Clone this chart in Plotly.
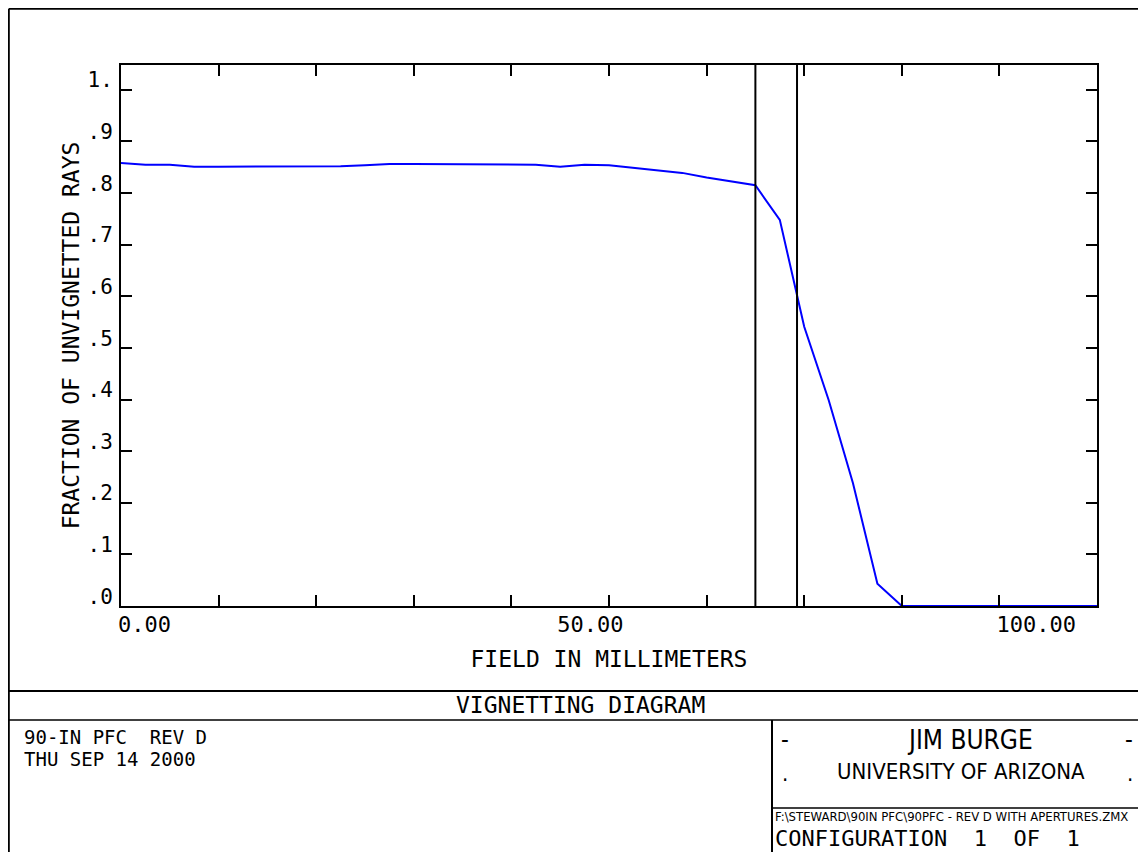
import plotly.graph_objects as go

# ---------------- data ----------------
field_mm = [0.00, 2.78, 5.56, 8.33, 11.11, 13.89, 16.67, 19.44, 22.22, 25.00,
            27.78, 30.56, 33.33, 36.11, 38.89, 41.67, 44.44, 47.22, 50.00, 52.78,
            55.56, 58.33, 61.11, 63.89, 66.67, 69.44, 72.22, 75.00, 77.78, 80.56,
            83.33, 86.11, 88.89, 91.67, 94.44, 97.22, 100.00, 102.78, 105.56,
            108.33, 111.11]
fraction = [0.858, 0.855, 0.855, 0.851, 0.851, 0.851, 0.851, 0.851, 0.851, 0.852,
            0.854, 0.856, 0.856, 0.856, 0.856, 0.856, 0.856, 0.855, 0.851, 0.855,
            0.854, 0.849, 0.845, 0.839, 0.830, 0.822, 0.815, 0.748, 0.541, 0.399,
            0.238, 0.043, 0.000, 0.000, 0.000, 0.000, 0.000, 0.000, 0.000,
            0.000, 0.000]
aperture_lines = [72.22, 76.96]

x_label_vals = [0, 50, 100]
x_label_text = ["0.00", "50.00", "100.00"]
x_tick_marks = [11.11, 22.22, 33.33, 44.44, 55.56, 66.67, 77.78, 88.89, 100.00, 111.11]
y_tick_vals = [0.0, 0.1, 0.2, 0.3, 0.4, 0.5, 0.6, 0.7, 0.8, 0.9, 1.0]
y_tick_text = [".0", ".1", ".2", ".3", ".4", ".5", ".6", ".7", ".8", ".9", "1."]

x_range = [0, 111.11]
y_range = [0, 1.048]

title_text = "VIGNETTING DIAGRAM"
lens_lines = ["90-IN PFC  REV D", "THU SEP 14 2000"]
author = "JIM BURGE"
institution = "UNIVERSITY OF ARIZONA"
file_path = "F:\\STEWARD\\90IN PFC\\90PFC - REV D WITH APERTURES.ZMX"
config_text = "CONFIGURATION  1  OF  1"

# ---------------- layout helpers ----------------
# The page body adds an 8 px margin on every side; the figure is sized so the
# page does not overflow, and positions below are given in page pixels.
OFF = 8
PAGE_W, PAGE_H = 1146, 860
W, H = PAGE_W - 2 * OFF, PAGE_H - 2 * OFF
FIG_R, FIG_B = OFF + W, OFF + H            # right / bottom edge in page px
L, R, T, B = 121, 1097, 65, 606            # plot area in page pixels
MONO = "DejaVu Sans Mono"
COND = "DejaVu Sans Condensed, Liberation Sans, sans-serif"


def px(xp):
    return (xp - L) / (R - L)


def py(yp):
    return (B - yp) / (B - T)


fig = go.Figure()

fig.add_trace(go.Scatter(x=field_mm, y=fraction, mode="lines",
                         line=dict(color="#0000ff", width=2), showlegend=False,
                         hoverinfo="skip"))
for xv in aperture_lines:
    fig.add_trace(go.Scatter(x=[xv, xv], y=y_range, mode="lines", xaxis="x2",
                             line=dict(color="black", width=2), showlegend=False,
                             hoverinfo="skip"))

EDGE = OFF + 0.8
frame = [
    (EDGE, EDGE, FIG_R, EDGE, 2), (EDGE, EDGE, EDGE, FIG_B, 2),
    (EDGE, 691, FIG_R, 691, 2), (EDGE, 720, FIG_R, 720, 1.5),
    (772, 720, 772, FIG_B, 2), (772, 808, FIG_R, 808, 1.5),
]
shapes = []
for x0, y0, x1, y1, w in frame:
    shapes.append(dict(type="line", xref="paper", yref="paper",
                       x0=px(x0), y0=py(y0), x1=px(x1), y1=py(y1),
                       line=dict(color="black", width=w)))


def ann(text, x, y, size, family=MONO, xanchor="center", yanchor="middle"):
    return dict(text=text, x=px(x), y=py(y), xref="paper", yref="paper",
                xanchor=xanchor, yanchor=yanchor, showarrow=False,
                align="left" if xanchor == "left" else "center",
                font=dict(family=family, size=size, color="black"))


annotations = [
    ann(title_text, 580, 705, 23),
    ann(lens_lines[0], 22, 736.5, 19, xanchor="left"),
    ann(lens_lines[1], 22, 759, 19, xanchor="left"),
    ann("-", 785, 740, 24, family=COND),
    ann(author, 970, 740, 26, family=COND),
    ann("-", 1129, 740, 24, family=COND),
    ann(".", 785, 773, 22, family=COND),
    ann(institution, 961, 772, 22, family=COND),
    ann(".", 1130, 773, 22, family=COND),
    ann(file_path, 773, 816, 13, family=COND, xanchor="left"),
    ann(config_text, 773, 838, 22, xanchor="left"),
]

fig.update_layout(
    width=W, height=H, autosize=False,
    margin=dict(l=L - OFF, r=FIG_R - R, t=T - OFF, b=FIG_B - B, pad=0),
    paper_bgcolor="white", plot_bgcolor="white",
    showlegend=False,
    shapes=shapes, annotations=annotations,
    xaxis=dict(range=x_range, tickmode="array", tickvals=x_label_vals,
               ticktext=x_label_text, ticks="", showgrid=False, zeroline=False,
               showline=True, linecolor="black", linewidth=2, mirror=True,
               ticklabelposition="outside right", ticklabelstandoff=-2,
               ticklabelshift=-4,
               tickfont=dict(family=MONO, size=22, color="black"),
               title=dict(text="FIELD IN MILLIMETERS", standoff=14,
                          font=dict(family=MONO, size=23, color="black"))),
    xaxis2=dict(range=x_range, overlaying="x", anchor="y", side="bottom",
                tickmode="array", tickvals=x_tick_marks, ticks="inside",
                ticklen=11, tickwidth=2, tickcolor="black", mirror="ticks",
                showline=True, linecolor="black", linewidth=2,
                showticklabels=False, showgrid=False, zeroline=False),
    yaxis=dict(range=y_range, tickmode="array", tickvals=y_tick_vals,
               ticktext=y_tick_text, ticks="inside", ticklen=11, tickwidth=2,
               tickcolor="black", mirror="ticks", showline=True,
               linecolor="black", linewidth=2, showgrid=False, zeroline=False,
               ticklabelposition="outside top", ticklabelstandoff=2,
               ticklabelshift=6,
               tickfont=dict(family=MONO, size=21, color="black"),
               title=dict(text="FRACTION OF UNVIGNETTED RAYS", standoff=1,
                          font=dict(family=MONO, size=23, color="black"))),
)

fig.write_html("out.html")
